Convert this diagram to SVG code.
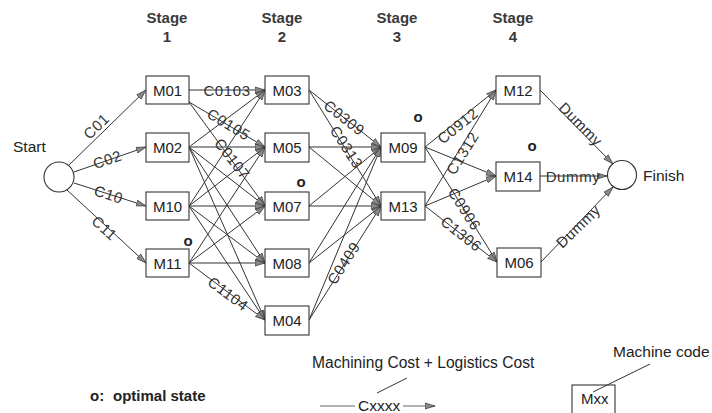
<svg xmlns="http://www.w3.org/2000/svg" width="712" height="413" viewBox="0 0 712 413">
<style>
text{font-family:"Liberation Sans",Arial,sans-serif;fill:#222}
.node rect{fill:#fff;stroke:#333;stroke-width:1.1}
.node text{font-size:15px;text-anchor:middle}
.stage{font-size:15px;font-weight:bold;text-anchor:middle;fill:#3a3a3a}
.opt{font-size:13px;font-weight:bold;text-anchor:middle}
.lbl{font-size:15px;text-anchor:middle;fill:#333;letter-spacing:0.6px}
#edges line{stroke:#333;stroke-width:1;marker-end:url(#ah)}
circle{fill:#fff;stroke:#333;stroke-width:1.1}
</style>
<defs>
<marker id="ah" markerWidth="11" markerHeight="8" refX="10" refY="4" orient="auto" markerUnits="userSpaceOnUse">
<path d="M0,1 L10,4 L0,7 Z" fill="#888" stroke="#333" stroke-width="0.7"/>
</marker>
</defs>
<g id="stages">
<text class="stage" x="167" y="23">Stage</text><text class="stage" x="167" y="42">1</text>
<text class="stage" x="282" y="23">Stage</text><text class="stage" x="282" y="42">2</text>
<text class="stage" x="397" y="23">Stage</text><text class="stage" x="397" y="42">3</text>
<text class="stage" x="513" y="23">Stage</text><text class="stage" x="513" y="42">4</text>
</g>
<g id="edges">
<line x1="69" y1="165" x2="146" y2="90"/>
<line x1="74" y1="172" x2="146" y2="147"/>
<line x1="74" y1="183" x2="146" y2="206"/>
<line x1="67" y1="190" x2="146" y2="263"/>
<line x1="189" y1="90" x2="265" y2="90"/>
<line x1="189" y1="102" x2="265" y2="147"/>
<line x1="189" y1="102" x2="265" y2="206"/>
<line x1="189" y1="147" x2="265" y2="90"/>
<line x1="189" y1="147" x2="265" y2="147"/>
<line x1="189" y1="147" x2="265" y2="206"/>
<line x1="189" y1="147" x2="265" y2="263"/>
<line x1="189" y1="147" x2="265" y2="320"/>
<line x1="189" y1="206" x2="265" y2="90"/>
<line x1="189" y1="206" x2="265" y2="147"/>
<line x1="189" y1="206" x2="265" y2="206"/>
<line x1="189" y1="206" x2="265" y2="263"/>
<line x1="189" y1="206" x2="265" y2="320"/>
<line x1="189" y1="263" x2="265" y2="147"/>
<line x1="189" y1="263" x2="265" y2="206"/>
<line x1="189" y1="263" x2="265" y2="263"/>
<line x1="189" y1="263" x2="265" y2="320"/>
<line x1="309" y1="90" x2="381" y2="147"/>
<line x1="309" y1="90" x2="381" y2="206"/>
<line x1="309" y1="147" x2="381" y2="147"/>
<line x1="309" y1="147" x2="381" y2="206"/>
<line x1="309" y1="206" x2="381" y2="147"/>
<line x1="309" y1="206" x2="381" y2="206"/>
<line x1="309" y1="263" x2="381" y2="147"/>
<line x1="309" y1="263" x2="381" y2="206"/>
<line x1="309" y1="320" x2="381" y2="147"/>
<line x1="309" y1="320" x2="381" y2="206"/>
<line x1="425" y1="147" x2="496" y2="90"/>
<line x1="425" y1="147" x2="496" y2="176"/>
<line x1="425" y1="147" x2="497" y2="262"/>
<line x1="425" y1="206" x2="496" y2="90"/>
<line x1="425" y1="206" x2="496" y2="176"/>
<line x1="425" y1="206" x2="497" y2="262"/>
<line x1="540" y1="90" x2="613" y2="164"/>
<line x1="540" y1="176" x2="607" y2="176"/>
<line x1="541" y1="262" x2="613" y2="187"/>
</g>
<g id="edge-labels">
<text class="lbl" transform="translate(100,130) rotate(-44)">C01</text>
<text class="lbl" transform="translate(109,164.5) rotate(-19)">C02</text>
<text class="lbl" transform="translate(107,199.5) rotate(18)">C10</text>
<text class="lbl" transform="translate(101,232) rotate(42)">C11</text>
<text class="lbl" x="227" y="95.5">C0103</text>
<text class="lbl" transform="translate(226,129) rotate(31)">C0105</text>
<text class="lbl" transform="translate(228,162) rotate(52)">C0107</text>
<text class="lbl" transform="translate(225,298) rotate(37)">C1104</text>
<text class="lbl" transform="translate(341,122) rotate(38)">C0309</text>
<text class="lbl" transform="translate(342,150) rotate(57)">C0313</text>
<text class="lbl" transform="translate(348,266) rotate(-57)">C0409</text>
<text class="lbl" transform="translate(461,130) rotate(-39)">C0912</text>
<text class="lbl" transform="translate(467,156) rotate(-58)">C1312</text>
<text class="lbl" transform="translate(460,212) rotate(57)">C0906</text>
<text class="lbl" transform="translate(458,238) rotate(38)">C1306</text>
<text class="lbl" transform="translate(577,128) rotate(45)">Dummy</text>
<text class="lbl" x="573" y="181.5">Dummy</text>
<text class="lbl" transform="translate(582,230) rotate(-44)">Dummy</text>
</g>
<g id="start"><circle cx="59" cy="177" r="15"/><text x="13" y="152" style="font-size:15.5px">Start</text></g>
<g id="finish"><circle cx="622" cy="175" r="14.5"/><text x="643" y="181" style="font-size:15.5px">Finish</text></g>
<g id="M01" class="node"><rect x="146" y="76" width="43" height="28"/><text x="167.5" y="95.5">M01</text></g>
<g id="M02" class="node"><rect x="146" y="133" width="43" height="29"/><text x="167.5" y="153">M02</text></g>
<g id="M10" class="node"><rect x="146" y="192" width="43" height="28"/><text x="167.5" y="211.5">M10</text></g>
<g id="M11" class="node"><rect x="146" y="249" width="43" height="28"/><text x="167.5" y="268.5">M11</text><text class="opt" x="188" y="246">o</text></g>
<g id="M03" class="node"><rect x="265" y="76" width="44" height="28"/><text x="287" y="95.5">M03</text></g>
<g id="M05" class="node"><rect x="265" y="133" width="44" height="29"/><text x="287" y="153">M05</text></g>
<g id="M07" class="node"><rect x="265" y="192" width="44" height="28"/><text x="287" y="211.5">M07</text><text class="opt" x="301" y="187">o</text></g>
<g id="M08" class="node"><rect x="265" y="249" width="44" height="28"/><text x="287" y="268.5">M08</text></g>
<g id="M04" class="node"><rect x="265" y="306" width="44" height="29"/><text x="287" y="326">M04</text></g>
<g id="M09" class="node"><rect x="381" y="133" width="44" height="29"/><text x="403" y="153">M09</text><text class="opt" x="418" y="122">o</text></g>
<g id="M13" class="node"><rect x="381" y="192" width="44" height="28"/><text x="403" y="211.5">M13</text></g>
<g id="M12" class="node"><rect x="496" y="76" width="44" height="28"/><text x="518" y="95.5">M12</text></g>
<g id="M14" class="node"><rect x="496" y="162" width="44" height="29"/><text x="518" y="182">M14</text><text class="opt" x="532" y="151">o</text></g>
<g id="M06" class="node"><rect x="497" y="248" width="44" height="29"/><text x="519" y="268">M06</text></g>
<g id="legend">
<text x="90" y="401" style="font-size:15px;font-weight:bold">o:</text>
<text x="113" y="401" style="font-size:15px;font-weight:bold">optimal state</text>
<text x="312" y="368" style="font-size:15.6px">Machining Cost + Logistics Cost</text>
<line x1="407" y1="378" x2="377" y2="393" stroke="#333" stroke-width="1"/>
<line x1="320" y1="406" x2="355" y2="406" stroke="#666" stroke-width="1"/>
<text x="358" y="411" style="font-size:15.5px">Cxxxx</text>
<line x1="403" y1="406" x2="435" y2="406" stroke="#666" stroke-width="1" marker-end="url(#ah)"/>
<text x="613" y="357" style="font-size:15.5px">Machine code</text>
<line x1="650" y1="364" x2="593" y2="392" stroke="#333" stroke-width="1"/>
<rect x="572" y="385" width="43" height="32" fill="none" stroke="#333" stroke-width="1.1"/>
<text x="581" y="404" style="font-size:15px">Mxx</text>
</g>
</svg>
